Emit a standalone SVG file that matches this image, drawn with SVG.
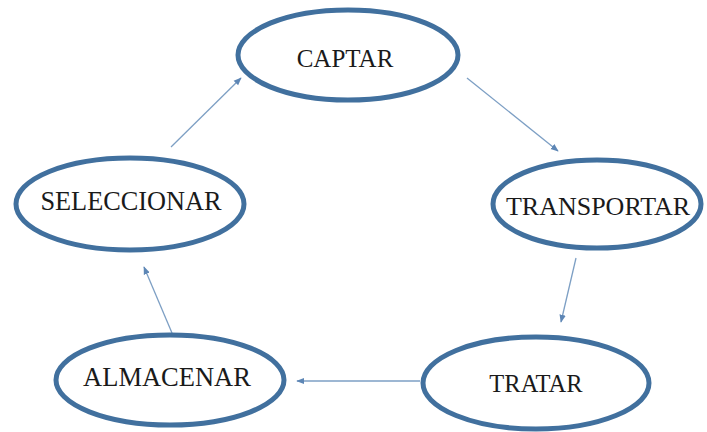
<svg xmlns="http://www.w3.org/2000/svg" width="707" height="432" viewBox="0 0 707 432">
<style>
.n ellipse{fill:#fff;stroke:#41709e;stroke-width:5}
.n text{font-family:"Liberation Serif","Times New Roman",serif;fill:#1a1a1a;text-anchor:middle}
.c line{stroke:#7d9fc4;stroke-width:1.3;marker-end:url(#ah)}
</style>
<defs>
<marker id="ah" viewBox="0 0 10 10" refX="9" refY="5" markerWidth="8" markerHeight="8" markerUnits="userSpaceOnUse" orient="auto">
<path d="M0,1 L10,5 L0,9 Z" fill="#5d86b5"/>
</marker>
</defs>
<rect width="707" height="432" fill="#fff"/>
<g id="connectors" class="c">
<line x1="467" y1="78" x2="558" y2="151"/>
<line x1="576" y1="258" x2="561" y2="322"/>
<line x1="420" y1="381" x2="297" y2="381"/>
<line x1="172" y1="333" x2="144" y2="267"/>
<line x1="171" y1="147" x2="241" y2="78"/>
</g>
<g id="captar" class="n">
<ellipse cx="348" cy="55" rx="110" ry="45"/>
<text x="345" y="67" font-size="25">CAPTAR</text>
</g>
<g id="transportar" class="n">
<ellipse cx="597" cy="204" rx="104" ry="44"/>
<text x="598" y="215" font-size="26">TRANSPORTAR</text>
</g>
<g id="tratar" class="n">
<ellipse cx="536" cy="383" rx="113" ry="46"/>
<text x="536" y="392" font-size="24.5">TRATAR</text>
</g>
<g id="almacenar" class="n">
<ellipse cx="170" cy="380" rx="114" ry="45"/>
<text x="167" y="386" font-size="26.5">ALMACENAR</text>
</g>
<g id="seleccionar" class="n">
<ellipse cx="130" cy="204" rx="114" ry="46"/>
<text x="131" y="210" font-size="26.3">SELECCIONAR</text>
</g>
</svg>
